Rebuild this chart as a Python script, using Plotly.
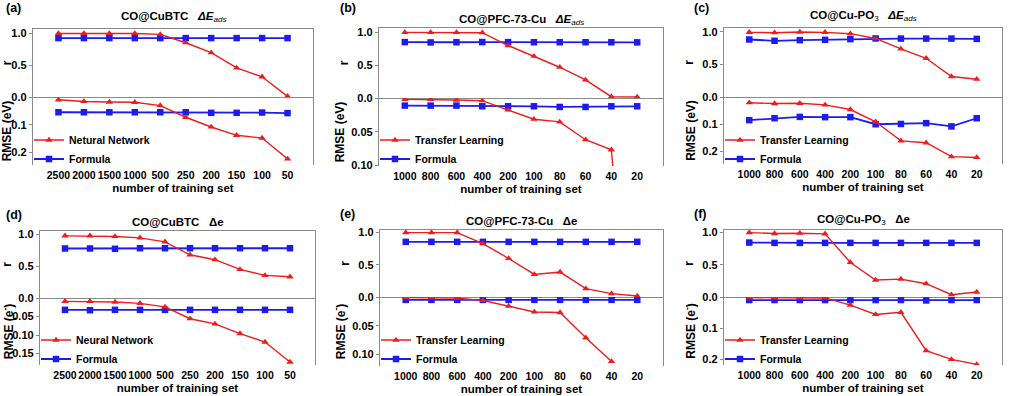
import plotly.graph_objects as go

W, H = 1010, 396

# ---------------- data ----------------
cat_big = ["2500", "2000", "1500", "1000", "500", "250", "200", "150", "100", "50"]
cat_small = ["1000", "800", "600", "400", "200", "100", "80", "60", "40", "20"]

a_r_ml = [1.00, 1.00, 1.00, 1.00, 0.985, 0.854, 0.698, 0.458, 0.318, 0.01]
a_r_f = [0.927, 0.927, 0.927, 0.927, 0.927, 0.927, 0.927, 0.927, 0.927, 0.927]
a_rmse_ml = [0.010, 0.016, 0.018, 0.019, 0.031, 0.073, 0.108, 0.138, 0.148, 0.223]
a_rmse_f = [0.055, 0.055, 0.055, 0.055, 0.055, 0.055, 0.057, 0.057, 0.056, 0.058]

b_r_ml = [1.00, 1.00, 1.00, 0.995, 0.80, 0.638, 0.469, 0.276, 0.02, 0.015]
b_r_f = [0.852, 0.847, 0.850, 0.853, 0.852, 0.850, 0.850, 0.850, 0.850, 0.848]
b_rmse_ml = [0.002, 0.002, 0.003, 0.004, 0.0177, 0.0315, 0.0355, 0.062, 0.077, 0.52]
b_rmse_f = [0.0113, 0.0113, 0.0113, 0.0123, 0.0123, 0.0123, 0.0133, 0.0133, 0.0123, 0.0123]

c_r_ml = [0.99, 0.985, 0.995, 0.99, 0.97, 0.897, 0.737, 0.593, 0.314, 0.273]
c_r_f = [0.881, 0.861, 0.871, 0.876, 0.887, 0.897, 0.895, 0.895, 0.895, 0.89]
c_rmse_ml = [0.021, 0.024, 0.023, 0.029, 0.046, 0.091, 0.161, 0.168, 0.219, 0.222]
c_rmse_f = [0.085, 0.078, 0.073, 0.074, 0.074, 0.100, 0.099, 0.096, 0.108, 0.078]

d_r_ml = [0.974, 0.974, 0.964, 0.943, 0.88, 0.677, 0.60, 0.448, 0.354, 0.333]
d_r_f = [0.776, 0.776, 0.771, 0.78, 0.78, 0.78, 0.78, 0.78, 0.78, 0.78]
d_rmse_ml = [0.009, 0.009, 0.011, 0.0145, 0.024, 0.056, 0.070, 0.096, 0.119, 0.173]
d_rmse_f = [0.032, 0.033, 0.032, 0.032, 0.032, 0.032, 0.032, 0.032, 0.032, 0.032]

e_r_ml = [1.00, 1.00, 1.00, 0.83, 0.598, 0.35, 0.387, 0.129, 0.052, 0.015]
e_r_f = [0.856, 0.856, 0.856, 0.856, 0.856, 0.856, 0.856, 0.856, 0.856, 0.856]
e_rmse_ml = [0.001, 0.001, 0.002, 0.006, 0.016, 0.026, 0.027, 0.071, 0.112, None]
e_rmse_f = [0.005, 0.005, 0.005, 0.005, 0.005, 0.005, 0.005, 0.005, 0.005, 0.005]

f_r_ml = [1.00, 0.985, 0.99, 0.98, 0.536, 0.263, 0.278, 0.206, 0.036, 0.077]
f_r_f = [0.845, 0.84, 0.84, 0.84, 0.84, 0.84, 0.84, 0.84, 0.84, 0.84]
f_rmse_ml = [0.002, 0.003, 0.003, 0.003, 0.026, 0.056, 0.049, 0.172, 0.20, 0.216]
f_rmse_f = [0.0097, 0.0097, 0.0097, 0.0097, 0.0097, 0.0097, 0.0097, 0.011, 0.0097, 0.0097]

panel_labels = ["(a)", "(b)", "(c)", "(d)", "(e)", "(f)"]
titles = [
    "<b>CO@CuBTC</b>\u00a0\u00a0\u00a0<b><i>ΔE</i></b><sub><i>ads</i></sub>",
    "<b>CO@PFC-73-Cu</b>\u00a0\u00a0\u00a0<b><i>ΔE</i></b><sub><i>ads</i></sub>",
    "<b>CO@Cu-PO</b><sub>3</sub>\u00a0\u00a0\u00a0<b><i>ΔE</i></b><sub><i>ads</i></sub>",
    "<b>CO@CuBTC\u00a0\u00a0\u00a0Δe</b>",
    "<b>CO@PFC-73-Cu\u00a0\u00a0\u00a0Δe</b>",
    "<b>CO@Cu-PO</b><sub>3</sub>\u00a0\u00a0\u00a0<b>Δe</b>",
]
ml_names = ["Netural Network", "Transfer Learning", "Transfer Learning",
            "Neural Network", "Transfer Learning", "Transfer Learning"]
formula_name = "Formula"
rmse_titles = ["<b>RMSE (eV)</b>", "<b>RMSE (eV)</b>", "<b>RMSE (eV)</b>",
               "<b>RMSE (e<sup>-</sup>)</b>", "<b>RMSE (e<sup>-</sup>)</b>", "<b>RMSE (e<sup>-</sup>)</b>"]
r_ticks = [0.0, 0.5, 1.0]
r_ticktext = ["0.0", "0.5", "1.0"]
rmse_ticks = [[0.1, 0.2], [0.05, 0.10], [0.1, 0.2], [0.05, 0.10, 0.15], [0.05, 0.10], [0.1, 0.2]]
rmse_ticktext = [["0.1", "0.2"], ["0.05", "0.10"], ["0.1", "0.2"],
                 ["0.05", "0.10", "0.15"], ["0.05", "0.10"], ["0.1", "0.2"]]
r_max = [1.07, 1.067, 1.057, 1.05, 1.04, 1.04]
rmse_max = [0.245, 0.101, 0.246, 0.181, 0.12, 0.218]

categories = [cat_big, cat_small, cat_small, cat_big, cat_small, cat_small]
r_ml = [a_r_ml, b_r_ml, c_r_ml, d_r_ml, e_r_ml, f_r_ml]
r_f = [a_r_f, b_r_f, c_r_f, d_r_f, e_r_f, f_r_f]
rmse_ml = [a_rmse_ml, b_rmse_ml, c_rmse_ml, d_rmse_ml, e_rmse_ml, f_rmse_ml]
rmse_f = [a_rmse_f, b_rmse_f, c_rmse_f, d_rmse_f, e_rmse_f, f_rmse_f]

# ---------------- layout geometry (pixels) ----------------
# left, right, top, zero-line, bottom
boxes = [
    (33, 313, 29, 97, 165),
    (379, 663, 28, 98, 166),
    (724, 1002, 28, 97, 164),
    (40, 315, 231, 298, 365),
    (380, 663, 230, 297, 366),
    (724, 1002, 230, 297, 365),
]
label_pos = [(4, 8), (338, 8), (692, 8), (4, 215), (338, 214), (692, 214)]
title_y = [17, 20, 16, 222, 221, 220]
legend_pos = [(29, 149.5), (375, 149.5), (720, 149.5), (36, 349.5), (376, 349.5), (720, 349.5)]

RED = "#ee1c1c"
BLUE = "#1c1cee"
AXC = "#8a8a8a"
FONT = "Liberation Sans, Arial, sans-serif"


def px(x):
    return x / W


def py(y):
    return 1 - y / H


fig = go.Figure()
layout = dict(
    width=W, height=H, margin=dict(l=0, r=0, t=0, b=0, autoexpand=False),
    paper_bgcolor="white", plot_bgcolor="white",
    font=dict(family=FONT, size=11, color="black"),
    showlegend=True,
)
annotations = []

for i in range(6):
    L, R, T, Z, B = boxes[i]
    xt, xb = 2 * i + 1, 2 * i + 2
    yt, yb = 2 * i + 1, 2 * i + 2
    xt_id = "x" if xt == 1 else f"x{xt}"
    xb_id = f"x{xb}"
    yt_id = "y" if yt == 1 else f"y{yt}"
    yb_id = f"y{yb}"
    leg = "legend" if i == 0 else f"legend{i + 1}"
    cats = categories[i]

    # top half: r
    fig.add_trace(go.Scatter(x=cats, y=r_f[i], xaxis=xt_id, yaxis=yt_id, mode="lines+markers",
                             line=dict(color=BLUE, width=1.8), marker=dict(symbol="square", size=6.5, color=BLUE),
                             showlegend=False, legend=leg))
    fig.add_trace(go.Scatter(x=cats, y=r_ml[i], xaxis=xt_id, yaxis=yt_id, mode="lines+markers",
                             line=dict(color=RED, width=1.4), marker=dict(symbol="triangle-up", size=6.5, color=RED),
                             showlegend=False, legend=leg))
    # bottom half: RMSE
    fig.add_trace(go.Scatter(x=cats, y=rmse_f[i], xaxis=xb_id, yaxis=yb_id, mode="lines+markers",
                             name="<b>" + formula_name + "</b>", legendrank=2,
                             line=dict(color=BLUE, width=1.8), marker=dict(symbol="square", size=6.5, color=BLUE),
                             showlegend=True, legend=leg))
    fig.add_trace(go.Scatter(x=cats, y=rmse_ml[i], xaxis=xb_id, yaxis=yb_id, mode="lines+markers",
                             name="<b>" + ml_names[i] + "</b>", legendrank=1,
                             line=dict(color=RED, width=1.4), marker=dict(symbol="triangle-up", size=6.5, color=RED),
                             showlegend=True, legend=leg))

    xdom = [px(L), px(R)]
    common_x = dict(domain=xdom, type="category", range=[-1, len(cats)], showgrid=False, zeroline=False,
                    automargin=False)
    layout["xaxis" if xt == 1 else f"xaxis{xt}"] = dict(
        **common_x, anchor=yt_id, showticklabels=False, ticks="",
        showline=True, linecolor=AXC, linewidth=1.3, mirror=True)
    layout[f"xaxis{xb}"] = dict(
        **common_x, anchor=yb_id, showline=False, ticks="", tickangle=0, ticklabelstandoff=2,
        tickfont=dict(size=10.5, family=FONT, color="black"), tickprefix="<b>", ticksuffix="</b>",
        title=dict(text="<b>number of training set</b>", font=dict(size=11.5, family=FONT), standoff=4))
    layout["yaxis" if yt == 1 else f"yaxis{yt}"] = dict(
        domain=[py(Z), py(T)], anchor=xt_id, range=[0, r_max[i]], showgrid=False, zeroline=False,
        automargin=False,
        showline=True, linecolor=AXC, linewidth=1.3, mirror=True,
        ticks="outside", ticklen=3, tickcolor=AXC,
        tickvals=r_ticks, ticktext=[f"<b>{t}</b>" for t in r_ticktext],
        tickfont=dict(size=11, family=FONT),
        title=dict(text="<b>r</b>", font=dict(size=12, family=FONT), standoff=6))
    layout[f"yaxis{yb}"] = dict(
        domain=[py(B), py(Z)], anchor=xb_id, range=[rmse_max[i], 0], showgrid=False, zeroline=False,
        automargin=False,
        showline=True, linecolor=AXC, linewidth=1.3, mirror=True,
        ticks="outside", ticklen=3, tickcolor=AXC,
        tickvals=rmse_ticks[i], ticktext=[f"<b>{t}</b>" for t in rmse_ticktext[i]],
        tickfont=dict(size=11, family=FONT),
        title=dict(text=rmse_titles[i], font=dict(size=12, family=FONT), standoff=4))

    lx, ly = legend_pos[i]
    layout[leg] = dict(x=px(lx), y=py(ly), xanchor="left", yanchor="middle",
                       bgcolor="rgba(0,0,0,0)", borderwidth=0,
                       font=dict(size=10.5, family=FONT, color="black"),
                       tracegroupgap=0)

    plx, ply = label_pos[i]
    annotations.append(dict(text="<b>" + panel_labels[i] + "</b>", x=px(plx), y=py(ply), xref="paper", yref="paper",
                            xanchor="left", yanchor="middle", showarrow=False, font=dict(size=12.5, family=FONT)))
    annotations.append(dict(text=titles[i], x=px((L + R) / 2), y=py(title_y[i]), xref="paper", yref="paper",
                            xanchor="center", yanchor="middle", showarrow=False, font=dict(size=11.5, family=FONT)))

layout["annotations"] = annotations
fig.update_layout(**layout)
# remove the browser's default 8px body margin so the figure sits at the page origin
fig.write_html("out.html", config={"displayModeBar": False},
               post_script="document.body.style.margin='0px';")
